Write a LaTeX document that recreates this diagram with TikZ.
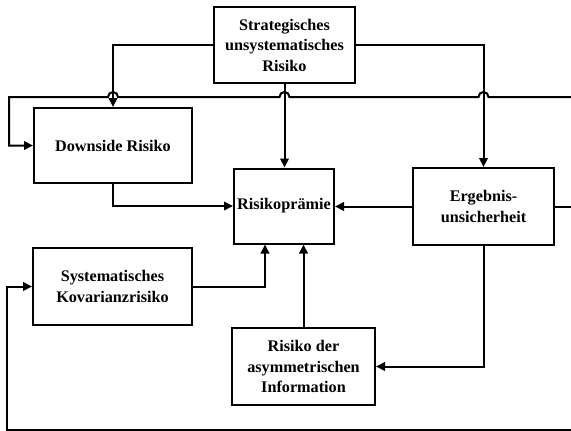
\documentclass[tikz,border=0pt]{standalone}
\usepackage{fontspec}
\setmainfont{Liberation Serif}
\usepackage{tikz}
\usetikzlibrary{arrows.meta,calc,positioning}

\begin{document}
\begin{tikzpicture}[x=1pt,y=-1pt,
  box/.style={draw,line width=2pt,align=center,inner sep=0pt,
    font=\bfseries\fontsize{16.2}{20.5}\selectfont},
  link/.style={line width=2pt,-{Triangle[length=9pt,width=8.5pt]}},
  wire/.style={line width=2pt}]
  \useasboundingbox (0,0) rectangle (571,431);
  \clip (0,0) rectangle (571,431);
  % boxes
  \node[box,minimum width=141,minimum height=76] (strat) at (284.5,45) {Strategisches\\unsystematisches\\Risiko};
  \node[box,minimum width=158,minimum height=75] (down) at (113,145.5) {Downside Risiko};
  \node[box,minimum width=100,minimum height=75] (praemie) at (284,206) {Risikoprämie};
  \node[box,minimum width=141,minimum height=77] (ergeb) at (483.5,206.5) {Ergebnis-\\unsicherheit};
  \node[box,minimum width=159,minimum height=77] (syst) at (112.5,286.5) {Systematisches\\Kovarianzrisiko};
  \node[box,minimum width=143,minimum height=77] (asym) at (303.5,366.5) {Risiko der\\asymmetrischen\\Information};
  % free ends at the border
  \coordinate (fbR) at (575,97);
  \coordinate (fbL) at (9,97);
  \coordinate (ergR) at (575,207);
  \coordinate (botR) at (575,430);
  \coordinate (botL) at (7,430);
  % connectors
  \draw[link] (strat.west) -| (down.north);
  \draw[link] (strat.south) -- (strat.south |- praemie.north);
  \draw[link] (strat.east) -| (ergeb.north);
  \draw[link] (fbR) -- ([xshift=5pt]ergeb.north |- fbR) arc[start angle=0,end angle=180,radius=5pt]
    -- ([xshift=5pt]strat.south |- fbR) arc[start angle=0,end angle=180,radius=5pt]
    -- ([xshift=5pt]down.north |- fbR) arc[start angle=0,end angle=180,radius=5pt]
    -- (fbL) |- (down.west);
  \draw[wire] (ergeb.east) -- (ergeb.east -| ergR);
  \draw[link] (botR) -- (botL) |- (syst.west);
  \draw[link] (down.south) |- (praemie.west);
  \draw[link] (syst.east) -| ([xshift=-19pt]praemie.south);
  \draw[link] (asym.north) -- (asym.north |- praemie.south);
  \draw[link] (ergeb.west) -- (ergeb.west -| praemie.east);
  \draw[link] (ergeb.south) |- (asym.east);
\end{tikzpicture}
\end{document}
